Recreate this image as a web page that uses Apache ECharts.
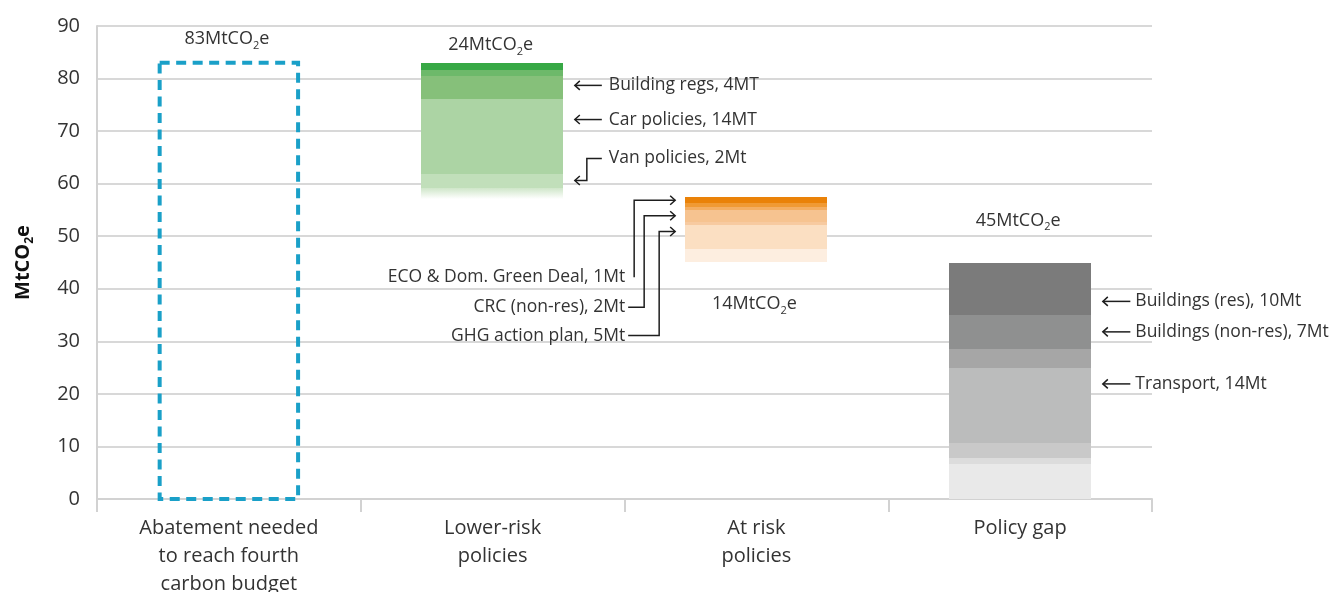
<!DOCTYPE html>
<html>
<head>
<meta charset="utf-8">
<script src="https://cdn.jsdelivr.net/npm/echarts@6/dist/echarts.min.js"></script>
<style>
  html, body { margin: 0; padding: 0; background: #ffffff; }
  #chart { width: 1331px; height: 592px; }
</style>
</head>
<body>
<div id="chart"></div>
<script>
// ---- data -------------------------------------------------------------
const categories = [
  'Abatement needed\nto reach fourth\ncarbon budget',
  'Lower-risk\npolicies',
  'At risk\npolicies',
  'Policy gap'
];
const yTicks = { min: 0, max: 90, step: 10 };

// Total abatement required (MtCO2e)
const abatementNeeded = 83;

// Band boundaries of each stacked block, top to bottom (MtCO2e)
const lowerRiskEdges = [83, 81.6, 80.5, 76.2, 61.8, 59.2, 57.0];
const atRiskEdges = [57.5, 56.35, 55.6, 54.9, 52.8, 52.1, 47.6, 45.1];
const policyGapEdges = [45, 35, 28.5, 25, 10.7, 7.8, 6.6, 0];

// Block totals shown above / below each column
const totalLabels = ['83', '24', '14', '45'];

const lowerRiskNotes = ['Building regs, 4MT', 'Car policies, 14MT', 'Van policies, 2Mt'];
const atRiskNotes = ['ECO & Dom. Green Deal, 1Mt', 'CRC (non-res), 2Mt', 'GHG action plan, 5Mt'];
const policyGapNotes = ['Buildings (res), 10Mt', 'Buildings (non-res), 7Mt', 'Transport, 14Mt'];

// ---- styling / annotation layout ---------------------------------------
const FONT = '"Open Sans", "Noto Sans", sans-serif';
const TEXT = '#333333';
const BAR_RATIO = 0.54;

const greenShades = ['#37a845', '#6db96a', '#86c07a', '#acd4a4', '#c1dfba', 'fade'];
const orangeShades = ['#ea8208', '#f09a34', '#f4ae62', '#f6c390', '#f7caa0', '#fbdfc2', '#fdeee0'];
const greyShades = ['#7b7b7b', '#8f9090', '#a6a6a6', '#bbbcbc', '#c9c9c9', '#dcdcdc', '#e9e9e9'];

// value levels (on the y scale) where the annotation texts / arrows sit
const layout = {
  totals: [87.5, 86.4, 37.1, 53.0],
  lowerRiskText: [78.7, 72.2, 64.8],
  vanArrow: 60.6,
  atRiskText: [42.2, 36.5, 31.1],
  atRiskArrow: [56.85, 53.9, 50.9],
  policyGapText: [37.6, 31.8, 21.9]
};

// ---- build segment rows: [categoryIndex, top, bottom, shadeIndex] --------
function toRows(cat, edges) {
  const rows = [];
  for (let i = 0; i < edges.length - 1; i++) rows.push([cat, edges[i], edges[i + 1], i]);
  return rows;
}
const shadeSets = { 1: greenShades, 2: orangeShades, 3: greyShades };
const segmentRows = [].concat(
  toRows(1, lowerRiskEdges),
  toRows(2, atRiskEdges),
  toRows(3, policyGapEdges)
);

const chart = echarts.init(document.getElementById('chart'), null, { renderer: 'canvas' });

function renderSegment(params, api) {
  const cat = api.value(0);
  const hi = api.coord([cat, api.value(1)]);
  const lo = api.coord([cat, api.value(2)]);
  const w = api.size([1, 0])[0] * BAR_RATIO;
  const shade = shadeSets[cat][api.value(3)];
  const y0 = Math.round(hi[1]);
  const y1 = Math.round(lo[1]);
  const fill = shade === 'fade'
    ? new echarts.graphic.LinearGradient(0, 0, 0, 1, [
        { offset: 0, color: '#cfe6c9' },
        { offset: 1, color: '#ffffff' }
      ])
    : shade;
  return {
    type: 'rect',
    shape: { x: Math.round(hi[0] - w / 2), y: y0, width: Math.round(w), height: y1 - y0 },
    style: { fill: fill }
  };
}

function renderDashed(params, api) {
  const cat = api.value(0);
  const hi = api.coord([cat, api.value(1)]);
  const lo = api.coord([cat, 0]);
  const w = api.size([1, 0])[0] * BAR_RATIO;
  return {
    type: 'rect',
    shape: { x: hi[0] - w / 2 + 2, y: hi[1], width: w - 4, height: lo[1] - hi[1] },
    style: { fill: null, stroke: '#1aa0c8', lineWidth: 4, lineDash: [10, 6.5] }
  };
}

chart.setOption({
  animation: false,
  backgroundColor: '#ffffff',
  grid: { left: 97, right: 179, top: 26, bottom: 93, containLabel: false, outerBoundsMode: 'none' },
  xAxis: {
    type: 'category',
    data: categories,
    axisLine: { show: true, lineStyle: { color: '#d2d2d2', width: 2 } },
    axisTick: { show: true, length: 13, lineStyle: { color: '#d2d2d2', width: 2 } },
    axisLabel: {
      interval: 0, margin: 15, fontSize: 20, lineHeight: 28,
      color: TEXT, fontFamily: FONT
    },
    splitLine: { show: false }
  },
  yAxis: {
    type: 'value',
    min: yTicks.min, max: yTicks.max, interval: yTicks.step,
    name: '{a|MtCO}{b|2}{a|e}',
    nameLocation: 'middle',
    nameRotate: 90,
    nameGap: 61,
    nameTextStyle: {
      rich: {
        a: { fontSize: 20, fontWeight: 'bold', fontFamily: FONT, color: '#111', lineHeight: 26 },
        b: { fontSize: 12, fontWeight: 'bold', fontFamily: FONT, color: '#111', lineHeight: 13, verticalAlign: 'bottom' }
      }
    },
    axisLine: { show: true, lineStyle: { color: '#d2d2d2', width: 2 } },
    axisTick: { show: false },
    axisLabel: { fontSize: 20, color: TEXT, fontFamily: FONT, margin: 17 },
    splitLine: { show: true, lineStyle: { color: '#d8d8d8', width: 2 } }
  },
  series: [
    {
      type: 'custom',
      name: 'Abatement needed',
      renderItem: renderDashed,
      encode: { x: 0, y: 1 },
      data: [[0, abatementNeeded]],
      z: 3
    },
    {
      type: 'custom',
      name: 'Policy blocks',
      renderItem: renderSegment,
      encode: { x: 0, y: [1, 2] },
      data: segmentRows,
      z: 2
    }
  ]
});

// ---- annotations: arrows, notes and block totals ------------------------
function px(cat, val) { return chart.convertToPixel({ gridIndex: 0 }, [cat, val]); }
const band = px(1, 0)[0] - px(0, 0)[0];
const half = band * BAR_RATIO / 2;
const INK = '#1e1e1e';

function path(points) {
  return { type: 'polyline', silent: true, z: 10,
    shape: { points: points }, style: { stroke: INK, lineWidth: 1.5, fill: null } };
}
function headLeft(x, y) { return path([[x + 5, y - 4.5], [x, y], [x + 5, y + 4.5]]); }
function headRight(x, y) { return path([[x - 5, y - 4.5], [x, y], [x - 5, y + 4.5]]); }
function note(str, x, y, align) {
  return { type: 'text', silent: true, z: 10, x: x, y: y,
    style: { text: str, font: '17.5px ' + FONT, fill: TEXT, align: align, verticalAlign: 'middle' } };
}
function totalText(value, x, y) {
  return { type: 'text', silent: true, z: 10, x: x, y: y,
    style: {
      text: '{a|' + value + 'MtCO}{b|2}{a|e}',
      align: 'center', verticalAlign: 'middle',
      rich: {
        a: { fontSize: 18, fontFamily: FONT, fill: TEXT, lineHeight: 24 },
        b: { fontSize: 11, fontFamily: FONT, fill: TEXT, lineHeight: 12, verticalAlign: 'bottom' }
      }
    } };
}

const g = [];

// lower-risk policies (right of the green block)
const greenRight = px(1, 0)[0] + half;
lowerRiskNotes.forEach(function (t, i) {
  const y = px(1, layout.lowerRiskText[i])[1];
  g.push(note(t, greenRight + 45, y, 'left'));
  if (i < 2) {
    g.push(path([[greenRight + 38, y], [greenRight + 11, y]]));
    g.push(headLeft(greenRight + 11, y));
  } else {
    const ya = px(1, layout.vanArrow)[1];
    g.push(path([[greenRight + 38, y], [greenRight + 23, y], [greenRight + 23, ya], [greenRight + 11, ya]]));
    g.push(headLeft(greenRight + 11, ya));
  }
});

// at-risk policies (elbow connectors into the orange block)
const orangeLeft = px(2, 0)[0] - half;
const elbowX = [-51, -41, -26];
atRiskNotes.forEach(function (t, i) {
  const yt = px(2, layout.atRiskText[i])[1];
  const ya = px(2, layout.atRiskArrow[i])[1];
  const tip = orangeLeft - 10;
  const ex = orangeLeft + elbowX[i];
  g.push(note(t, orangeLeft - 60, yt, 'right'));
  if (i === 0) {
    g.push(path([[ex, yt], [ex, ya], [tip, ya]]));
  } else {
    g.push(path([[orangeLeft - 57, yt], [ex, yt], [ex, ya], [tip, ya]]));
  }
  g.push(headRight(tip, ya));
});

// policy gap (right of the grey block)
const greyRight = px(3, 0)[0] + half;
policyGapNotes.forEach(function (t, i) {
  const y = px(3, layout.policyGapText[i])[1];
  g.push(note(t, greyRight + 44, y, 'left'));
  g.push(path([[greyRight + 39, y], [greyRight + 11.5, y]]));
  g.push(headLeft(greyRight + 11.5, y));
});

// block totals
totalLabels.forEach(function (v, i) {
  const p = px(i, layout.totals[i]);
  g.push(totalText(v, p[0] - 2, p[1]));
});

chart.setOption({ graphic: { elements: g } });
</script>
</body>
</html>
